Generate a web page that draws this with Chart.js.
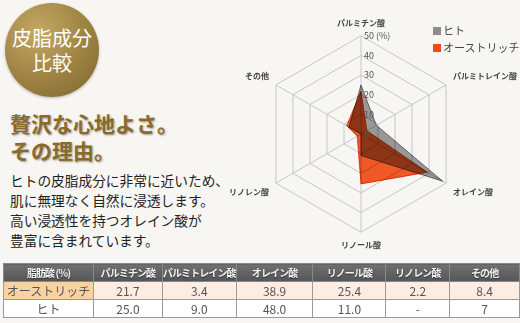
<!DOCTYPE html>
<html lang="ja">
<head>
<meta charset="utf-8">
<script src="https://cdn.jsdelivr.net/npm/chart.js@4"></script>
<style>
  body { margin: 0; background: #f7f6f2; font-family: "Noto Sans CJK JP", sans-serif; }
  #page { position: relative; width: 520px; height: 323px; overflow: hidden; }
  .badge {
    position: absolute; left: 5px; top: 3px; width: 94px; height: 94px; border-radius: 50%;
    background: radial-gradient(circle at 35% 30%, #c4a964, #9d8142 55%, #7e6530);
    box-shadow: 0 1px 3px rgba(0,0,0,0.25);
    color: #fff; font-size: 20px; line-height: 25px; text-align: center;
    display: flex; flex-direction: column; justify-content: center;
  }
  .head {
    position: absolute; left: 10px; top: 110px; font-size: 21px; line-height: 27px; font-weight: bold;
    color: #8b6a28; text-shadow: 1px 1px 2px rgba(0,0,0,0.35);
  }
  .body {
    position: absolute; left: 10px; top: 170px; font-size: 13.7px; line-height: 20px; color: #222;
  }
  #chart { position: absolute; left: 219px; top: 2px; }
  .legend { position: absolute; left: 433px; top: 22px; font-size: 11px; line-height: 17px; color: #444; white-space: nowrap; }
  .legend i { display: inline-block; width: 8px; height: 8px; margin-right: 2px; vertical-align: 0px; }
  table {
    position: absolute; left: 3px; top: 263px; border-collapse: collapse; table-layout: fixed;
    border: 1px solid #555; font-size: 12px; color: #555;
  }
  td, th { border: 1px solid #9a9a9a; height: 17px; padding: 0; text-align: center; line-height: 17px; white-space: nowrap; overflow: hidden; }
  th { background: linear-gradient(#707070, #555); color: #f2f2f2; font-size: 10px; letter-spacing: -0.9px; font-weight: bold;
       text-shadow: 0 1px 1px rgba(0,0,0,0.5); border-color: #888; }
  tr.o td { background: #fdece1; }
  tr.o td:first-child { background: #fad2a2; }
  tr.h td { background: #fff; }
</style>
</head>
<body>
<div id="page">
  <div class="badge"><div>皮脂成分</div><div>比較</div></div>
  <div class="head">贅沢な心地よさ。<br>その理由。</div>
  <div class="body">ヒトの皮脂成分に非常に近いため、<br>肌に無理なく自然に浸透します。<br>高い浸透性を持つオレイン酸が<br>豊富に含まれています。</div>
  <canvas id="chart" width="312" height="266"></canvas>
  <div class="legend" id="legend"></div>
  <table id="tbl"></table>
</div>
<script>
const categories = ['パルミチン酸', 'パルミトレイン酸', 'オレイン酸', 'リノール酸', 'リノレン酸', 'その他'];
const seriesNames = ['オーストリッチ', 'ヒト'];
const ostrich = [21.7, 3.4, 38.9, 25.4, 2.2, 8.4];
const human = [25.0, 9.0, 48.0, 11.0, null, 7];
const ostrichText = ['21.7', '3.4', '38.9', '25.4', '2.2', '8.4'];
const humanText = ['25.0', '9.0', '48.0', '11.0', '-', '7'];
const tickLabels = ['0', '10', '20', '30', '40', '50 (%)'];
const headerFirst = '脂肪酸 (%)';

// tick numbers sit just right of the vertical axis
const tickText = {
  id: 'tickText',
  afterDraw(chart) {
    const s = chart.scales.r, ctx = chart.ctx;
    ctx.save();
    ctx.font = '9px "Noto Sans CJK JP"';
    ctx.fillStyle = '#555';
    ctx.textBaseline = 'middle';
    ctx.textAlign = 'left';
    s.ticks.forEach((t, i) => {
      const p = s.getPointPositionForValue(0, t.value);
      ctx.fillText(tickLabels[i], p.x + 3, p.y);
    });
    ctx.restore();
  }
};

// overlapping areas go dark like the original (filler draws inside the dataset loop)
const multiplyFill = {
  id: 'multiplyFill',
  beforeDatasetsDraw(chart) { chart.ctx.save(); chart.ctx.globalCompositeOperation = 'multiply'; },
  afterDatasetsDraw(chart) { chart.ctx.restore(); }
};

new Chart(document.getElementById('chart'), {
  type: 'radar',
  data: {
    labels: categories,
    datasets: [{
      label: seriesNames[0],
      data: ostrich,
      backgroundColor: 'rgb(240, 88, 38)',
      borderColor: 'rgb(232, 78, 30)',
      borderWidth: 1
    }, {
      label: seriesNames[1],
      data: human.map(v => v == null ? 0 : v),
      backgroundColor: 'rgb(152, 152, 152)',
      borderColor: 'rgb(125, 125, 125)',
      borderWidth: 1
    }]
  },
  options: {
    responsive: false,
    animation: false,
    plugins: { legend: { display: false }, tooltip: { enabled: false } },
    elements: { point: { radius: 0 }, line: { tension: 0 } },
    scales: {
      r: {
        min: 0, max: 50,
        ticks: { stepSize: 10, display: false },
        grid: { color: '#c6c6c6' },
        angleLines: { color: '#c6c6c6' },
        pointLabels: {
          padding: 8,
          color: '#444',
          font: { size: 8, weight: 'bold', family: '"Noto Sans CJK JP"' }
        }
      }
    }
  },
  plugins: [multiplyFill, tickText]
});

document.getElementById('legend').innerHTML =
  '<div><i style="background:#8c8c8c"></i>' + seriesNames[1] + '</div>' +
  '<div><i style="background:#ee4a1c"></i>' + seriesNames[0] + '</div>';

const widths = [90, 69, 71, 77, 73, 64, 70];
let html = '<colgroup>' + widths.map(w => '<col style="width:' + w + 'px">').join('') + '</colgroup>';
html += '<tr><th>' + headerFirst + '</th>' + categories.map(c => '<th>' + c + '</th>').join('') + '</tr>';
html += '<tr class="o"><td>' + seriesNames[0] + '</td>' + ostrichText.map(v => '<td>' + v + '</td>').join('') + '</tr>';
html += '<tr class="h"><td>' + seriesNames[1] + '</td>' + humanText.map(v => '<td>' + v + '</td>').join('') + '</tr>';
document.getElementById('tbl').innerHTML = html;
</script>
</body>
</html>
